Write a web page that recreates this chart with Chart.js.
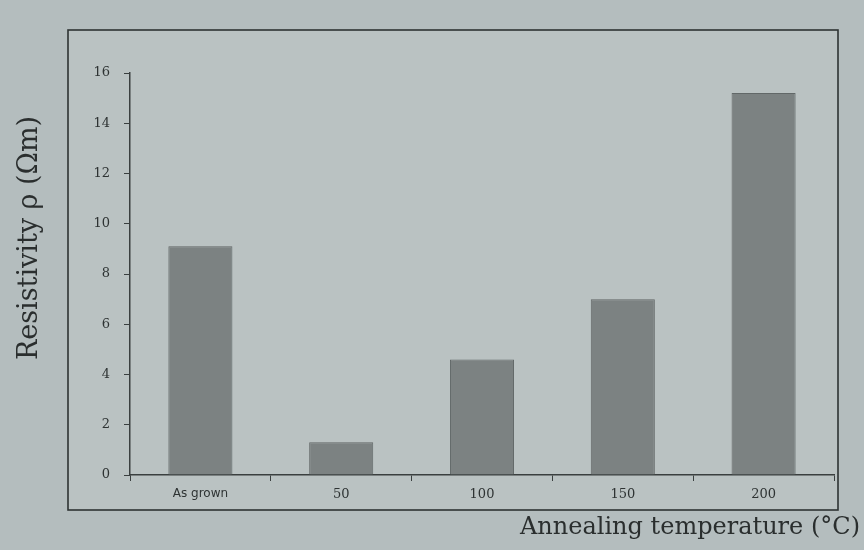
<!DOCTYPE html>
<html>
<head>
<meta charset="utf-8">
<script src="https://cdn.jsdelivr.net/npm/chart.js@4.4.1/dist/chart.umd.min.js"></script>
<style>
    html, body { margin: 0; padding: 0; background: #b4bdbe; }
    #wrap { width: 864px; height: 550px; }
</style>
</head>
<body>
<div id="wrap"><canvas id="grafico1" width="864" height="550"></canvas></div>
<script>
// datos
const categorias = ["As grown", "50", "100", "150", "200"];
const resistividad = [9.1, 1.3, 4.6, 7.0, 15.2];
const ticksY = [0, 2, 4, 6, 8, 10, 12, 14, 16];

const tituloY = "Resistivity \u03c1 (\u03a9m)";
const tituloX = "Annealing temperature (\u00b0C)";

//! marco y titulos
const marco = {
    id: "marco",
    beforeDraw(chart) {
        const c = chart.ctx;
        c.save();
        c.fillStyle = "#b4bdbe";
        c.fillRect(0, 0, chart.width, chart.height);
        c.fillStyle = "#bac2c2";
        c.fillRect(68, 30, 770, 480);
        c.strokeStyle = "#2e3333";
        c.lineWidth = 1.6;
        c.strokeRect(68, 30, 770, 480);
        c.restore();
    },
    afterDraw(chart) {
        const c = chart.ctx;
        c.save();
        c.fillStyle = "#2a2e2e";
        c.font = "24px 'DejaVu Serif'";
        c.textAlign = "right";
        c.textBaseline = "middle";
        c.fillText(tituloX, 860, 528);
        c.translate(30, 238);
        c.rotate(-Math.PI / 2);
        c.textAlign = "center";
        c.font = "27px 'DejaVu Serif'";
        c.fillText(tituloY, 0, 0);
        c.restore();
    }
};

document.addEventListener("DOMContentLoaded", function () {
    var ctx = document.getElementById("grafico1").getContext("2d");
    var grafico = new Chart(ctx, {
        type: "bar",
        data: {
            labels: categorias,
            datasets: [
                {
                    label: "Resistivity",
                    data: resistividad,
                    backgroundColor: "rgba(124, 130, 130, 1)",
                    borderColor: "rgba(98, 104, 104, 1)",
                    borderWidth: 1,
                    barPercentage: 0.91,
                    categoryPercentage: 0.5,
                },
            ],
        },
        options: {
            responsive: false,
            animation: false,
            layout: { padding: { top: 73, right: 30, left: 0, bottom: 0 } },
            plugins: {
                legend: { display: false },
                tooltip: { enabled: false },
            },
            scales: {
                x: {
                    grid: {
                        display: true,
                        drawOnChartArea: false,
                        offset: true,
                        tickLength: 6,
                        color: "#3a3f3f",
                    },
                    border: { color: "#3a3f3f", width: 1.5 },
                    ticks: {
                        color: "#2e3333",
                        font: function (c) {
                            return c.index === 0
                                ? { family: "'DejaVu Sans'", size: 12 }
                                : { family: "'DejaVu Serif'", size: 13 };
                        },
                        padding: 6,
                        maxRotation: 0,
                    },
                    afterFit: function (scale) { scale.height = 75; },
                },
                y: {
                    min: 0,
                    max: 16,
                    afterBuildTicks: function (scale) {
                        scale.ticks = ticksY.map(v => ({ value: v }));
                    },
                    grid: {
                        display: true,
                        drawOnChartArea: false,
                        tickLength: 6,
                        color: "#3a3f3f",
                    },
                    border: { color: "#3a3f3f", width: 1.5 },
                    ticks: {
                        color: "#2e3333",
                        font: { family: "'DejaVu Serif'", size: 13 },
                        padding: 14,
                    },
                    afterFit: function (scale) { scale.width = 130; },
                },
            },
        },
        plugins: [marco],
    });
});
</script>
</body>
</html>
